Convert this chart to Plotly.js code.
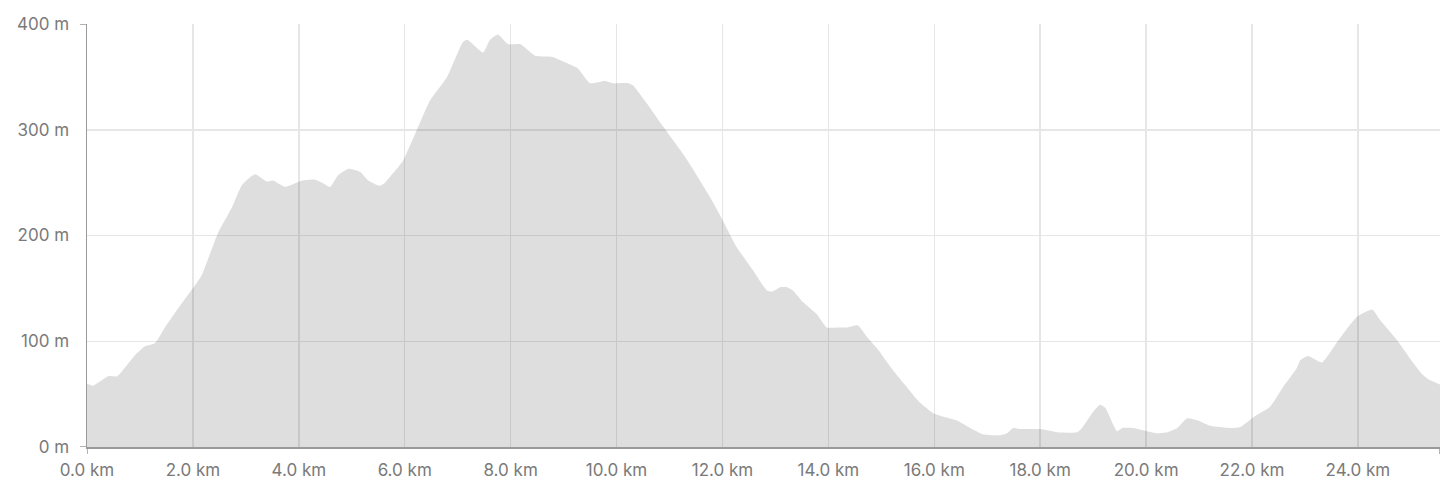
<!DOCTYPE html>
<html>
<head>
<meta charset="utf-8">
<script src="https://cdn.plot.ly/plotly-3.0.1.min.js"></script>
<style>html,body{margin:0;padding:0;background:#fff;}#chart{width:1456px;height:490px;}</style>
</head>
<body>
<div id="chart"></div>
<script>
// distance along route (km)
const distanceKm = [
  0.00, 0.11, 0.40, 0.57, 0.91, 1.09, 1.28, 1.47, 1.79, 2.04, 2.17, 2.47, 2.74, 2.93, 3.17, 3.40, 3.51, 3.74,
  4.06, 4.30, 4.44, 4.59, 4.74, 4.93, 5.16, 5.31, 5.53, 5.63, 5.78, 5.97, 6.23, 6.48, 6.80, 7.10, 7.18, 7.48,
  7.61, 7.76, 7.95, 8.18, 8.46, 8.78, 8.97, 9.27, 9.50, 9.78, 9.93, 10.22, 10.31, 10.57, 10.88, 11.20, 11.39,
  11.77, 12.00, 12.27, 12.58, 12.84, 12.94, 13.09, 13.22, 13.33, 13.52, 13.79, 13.97, 14.16, 14.35, 14.56,
  14.73, 14.94, 15.17, 15.41, 15.73, 15.98, 16.30, 16.43, 16.68, 16.92, 17.24, 17.37, 17.49, 17.62, 18.00,
  18.32, 18.70, 18.79, 18.98, 19.13, 19.23, 19.45, 19.55, 19.75, 20.02, 20.21, 20.40, 20.59, 20.77, 20.98,
  21.21, 21.59, 21.78, 22.02, 22.34, 22.59, 22.85, 22.91, 23.06, 23.32, 23.66, 23.98, 24.27, 24.42, 24.74,
  25.04, 25.23, 25.33, 25.55
];
// elevation (m)
const elevationM = [
  60, 58, 67, 67, 87, 95, 98, 113, 136, 153, 163, 202, 227, 248, 258, 251, 252, 246,
  252, 253, 250, 246, 257, 263, 260, 252, 247, 250, 259, 271, 300, 328, 350, 383, 385, 373,
  385, 390, 381, 381, 370, 369, 365, 358, 344, 346, 344, 344, 342, 325, 303, 281, 267,
  236, 215, 189, 167, 148, 147, 151, 151, 148, 137, 125, 113, 113, 113, 115,
  104, 92, 76, 61, 42, 32, 27, 25, 18, 12, 11, 13, 18, 17, 17,
  14, 14, 18, 32, 40, 37, 15, 18, 18, 15, 13, 14, 18, 27, 25,
  20, 18, 19, 28, 38, 57, 75, 82, 86, 80, 103, 123, 130, 120, 101,
  80, 68, 64, 59
];
const xRange = [0, 25.55];
const yRange = [0, 400];
const yTicks = [0, 100, 200, 300, 400];
const yTickLabels = ['0 m', '100 m', '200 m', '300 m', '400 m'];
const xTicks = [0, 2, 4, 6, 8, 10, 12, 14, 16, 18, 20, 22, 24];
const xTickLabels = ['0.0 km', '2.0 km', '4.0 km', '6.0 km', '8.0 km', '10.0 km', '12.0 km',
                     '14.0 km', '16.0 km', '18.0 km', '20.0 km', '22.0 km', '24.0 km'];

const axisCol = '#9a9a9a';
const fontSpec = {family: 'Inter, "Open Sans", sans-serif', size: 17, color: '#7a7a7a'};

const trace = {
  x: distanceKm, y: elevationM, type: 'scatter', mode: 'lines',
  fill: 'tozeroy', fillcolor: 'rgba(0,0,0,0.13)',
  line: {width: 0, shape: 'spline', smoothing: 0.5, color: 'rgba(0,0,0,0)'},
  hoverinfo: 'x+y'
};

function tick(xref, yref, x, y, horiz) {
  const s = {type: 'line', xref: xref, yref: yref, line: {color: axisCol, width: 1.5}, layer: 'above'};
  if (horiz) { s.xsizemode = 'pixel'; s.xanchor = x; s.x0 = -7; s.x1 = 0; s.y0 = y; s.y1 = y; }
  else { s.ysizemode = 'pixel'; s.yanchor = y; s.y0 = -7; s.y1 = 0; s.x0 = x; s.x1 = x; }
  return s;
}

const layout = {
  width: 1456, height: 490,
  margin: {l: 87, r: 16, t: 24, b: 43},
  paper_bgcolor: '#ffffff', plot_bgcolor: '#ffffff',
  showlegend: false,
  font: fontSpec,
  xaxis: {
    range: xRange, tickmode: 'array', tickvals: xTicks, ticktext: xTickLabels,
    showgrid: true, gridcolor: '#e6e6e6', gridwidth: 1.5,
    showline: true, linecolor: axisCol, linewidth: 1.5,
    zeroline: false, ticks: '', ticklabelstandoff: 7, tickfont: fontSpec,
    fixedrange: true
  },
  yaxis: {
    range: yRange, tickmode: 'array', tickvals: yTicks, ticktext: yTickLabels,
    showgrid: true, gridcolor: '#e6e6e6', gridwidth: 1.5,
    showline: true, linecolor: axisCol, linewidth: 1.5,
    zeroline: false, ticks: '', ticklabelstandoff: 13, tickfont: fontSpec,
    fixedrange: true
  },
  shapes: [
    tick('paper', 'y', 0, yRange[1], true),
    tick('paper', 'y', 0, yRange[0], true),
    tick('x', 'paper', xRange[0], 0, false),
    tick('x', 'paper', xRange[1], 0, false)
  ]
};

Plotly.newPlot('chart', [trace], layout, {displayModeBar: false, staticPlot: true});
</script>
</body>
</html>
